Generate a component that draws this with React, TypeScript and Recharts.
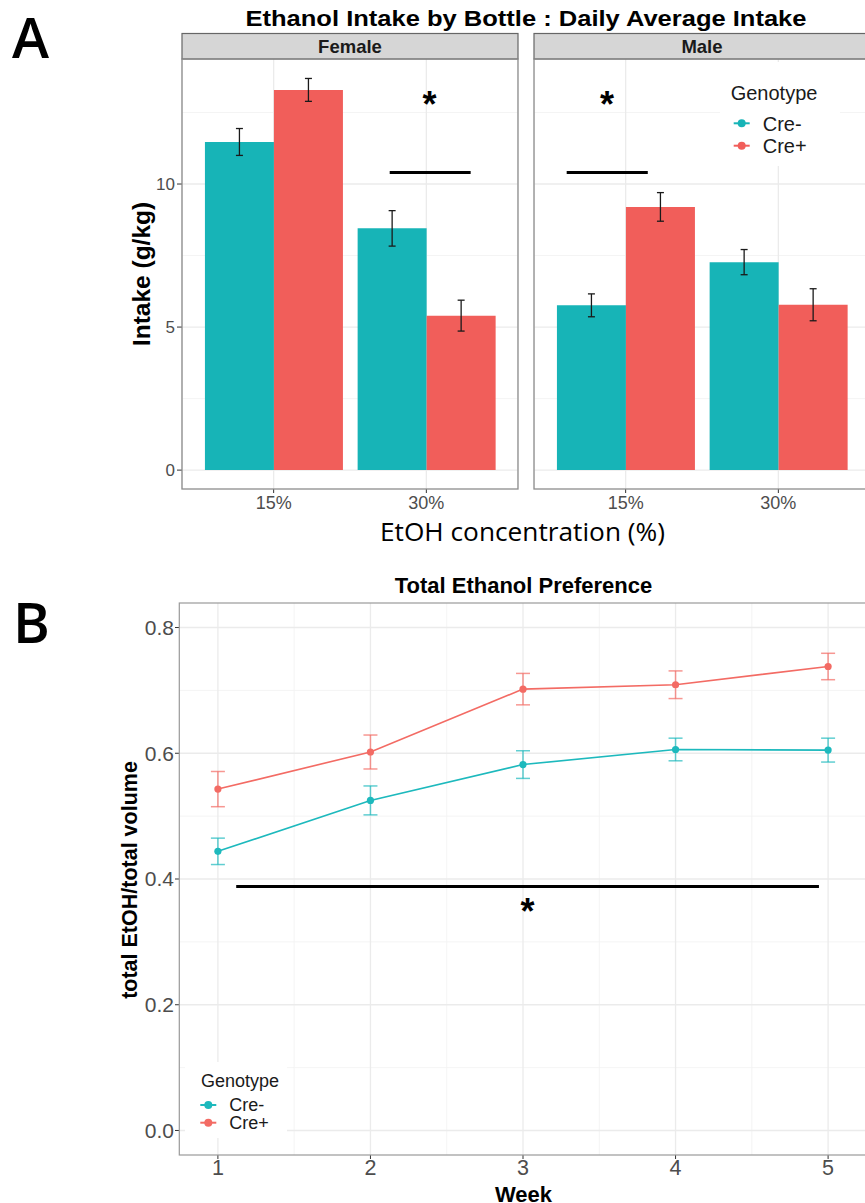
import React from 'react';
import {
  BarChart, Bar, LineChart, Line, XAxis, YAxis, CartesianGrid,
  ErrorBar, ReferenceLine, ReferenceDot,
} from 'recharts';

// panel A: daily average intake (g/kg)
const concentrations = ['15%', '30%'];
const femaleCreMinus = [11.47, 8.45];
const femaleCreMinusSE = [0.47, 0.62];
const femaleCrePlus = [13.29, 5.4];
const femaleCrePlusSE = [0.4, 0.54];
const maleCreMinus = [5.76, 7.27];
const maleCreMinusSE = [0.4, 0.44];
const maleCrePlus = [9.2, 5.78];
const maleCrePlusSE = [0.5, 0.56];
const intakeTicks = [0, 5, 10];
const intakeMinor = [2.5, 7.5, 12.5];
const intakeDomain = [-0.66, 14.37];

// panel B: total ethanol preference per week
const weeks = [1, 2, 3, 4, 5];
const prefCreMinus = [0.444, 0.525, 0.582, 0.606, 0.605];
const prefCreMinusSE = [0.021, 0.023, 0.022, 0.018, 0.019];
const prefCrePlus = [0.543, 0.602, 0.702, 0.709, 0.738];
const prefCrePlusSE = [0.028, 0.027, 0.025, 0.022, 0.021];
const prefTicks = [0, 0.2, 0.4, 0.6, 0.8];
const prefMinor = [0.1, 0.3, 0.5, 0.7];
const weekMinor = [1.5, 2.5, 3.5, 4.5];

const teal = '#17B4B7';
const red = '#F15E5A';
const tealLine = '#1DB9BD';
const redLine = '#F36B64';
const gridMajor = '#EBEBEB';
const gridMinor = '#F3F3F3';
const FONT = '"Liberation Sans", Arial, sans-serif';

const femaleData = concentrations.map((c, i) => ({
  conc: c, pos: i + 1, creMinus: femaleCreMinus[i], seMinus: femaleCreMinusSE[i],
  crePlus: femaleCrePlus[i], sePlus: femaleCrePlusSE[i],
}));
const maleData = concentrations.map((c, i) => ({
  conc: c, pos: i + 1, creMinus: maleCreMinus[i], seMinus: maleCreMinusSE[i],
  crePlus: maleCrePlus[i], sePlus: maleCrePlusSE[i],
}));
const prefData = weeks.map((w, i) => ({
  week: w, creMinus: prefCreMinus[i], seMinus: prefCreMinusSE[i],
  crePlus: prefCrePlus[i], sePlus: prefCrePlusSE[i],
}));

const Star = (p: any) => (
  <text x={p.cx} y={p.cy} dy="0.52em" textAnchor="middle" fontSize={36}
    fontWeight={700} fill="#000" fontFamily={FONT}>*</text>
);

function Facet({ data, left, showY, sig, star }: any) {
  const yw = showY ? 40 : 0;
  return (
    <>
      <div style={{ position: 'absolute', left: left - yw, top: 59 }}>
        <BarChart width={336 + yw} height={470} data={data}
          margin={{ top: 0, right: 0, bottom: 0, left: 0 }}
          barCategoryGap="5%" barGap={0}>
          <CartesianGrid horizontalValues={intakeMinor} vertical={false}
            stroke={gridMinor} strokeWidth={0.9} />
          <CartesianGrid horizontalValues={intakeTicks} stroke={gridMajor} strokeWidth={1.3} />
          <XAxis dataKey="conc" height={40} padding={{ left: 15.3, right: 15.3 }}
            axisLine={false} tickSize={4} tickMargin={3}
            tickLine={{ stroke: '#333' }}
            tick={{ fontSize: 18, fill: '#4D4D4D', fontFamily: FONT }} />
          <YAxis type="number" domain={intakeDomain} ticks={intakeTicks} allowDataOverflow
            hide={!showY} width={yw} axisLine={false} tickSize={5} tickMargin={2}
            tickLine={{ stroke: '#333' }}
            tick={{ fontSize: 17, fill: '#4D4D4D', fontFamily: FONT }} />
          <Bar dataKey="creMinus" fill={teal} isAnimationActive={false}>
            <ErrorBar dataKey="seMinus" width={3.5} stroke="#1a1a1a" strokeWidth={1.3} />
          </Bar>
          <Bar dataKey="crePlus" fill={red} isAnimationActive={false}>
            <ErrorBar dataKey="sePlus" width={3.5} stroke="#1a1a1a" strokeWidth={1.3} />
          </Bar>
        </BarChart>
      </div>
      {/* significance annotation on the continuous position scale of the facet */}
      <div style={{ position: 'absolute', left, top: 59, pointerEvents: 'none' }}>
        <LineChart width={336} height={430} data={data}
          margin={{ top: 0, right: 0, bottom: 0, left: 0 }}>
          <XAxis dataKey="pos" type="number" domain={[0.4, 2.6]} hide allowDataOverflow />
          <YAxis type="number" domain={intakeDomain} hide allowDataOverflow />
          <Line dataKey="creMinus" stroke="none" dot={false} activeDot={false}
            isAnimationActive={false} />
          <ReferenceLine segment={[{ x: sig[0], y: 10.4 }, { x: sig[1], y: 10.4 }]}
            stroke="#000" strokeWidth={3} ifOverflow="visible" />
          <ReferenceDot x={star} y={13} shape={Star} ifOverflow="visible" />
        </LineChart>
      </div>
    </>
  );
}

function LegendKey({ x, y, color, label, size }: any) {
  return (
    <g>
      <line x1={x - 8} x2={x + 8} y1={y} y2={y} stroke={color} strokeWidth={2} />
      <circle cx={x} cy={y} r={4} fill={color} />
      <text x={x + 21} y={y} dy="0.36em" fontSize={size} fill="#1a1a1a">{label}</text>
    </g>
  );
}

export default function App() {
  return (
    <div style={{
      position: 'absolute', left: 0, top: 0, width: 865, height: 1203,
      overflow: 'hidden', background: '#fff', fontFamily: FONT,
    }}>
      <Facet data={femaleData} left={182} showY sig={[1.76, 2.29]} star={2.02} />
      <Facet data={maleData} left={534} showY={false} sig={[0.614, 1.145]} star={0.878} />

      <div style={{ position: 'absolute', left: 119, top: 603 }}>
        <LineChart width={748} height={597} data={prefData}
          margin={{ top: 0, right: 0, bottom: 0, left: 0 }}>
          <CartesianGrid horizontalValues={prefMinor} verticalValues={weekMinor}
            stroke={gridMinor} strokeWidth={0.9} />
          <CartesianGrid horizontalValues={prefTicks} verticalValues={weeks}
            stroke={gridMajor} strokeWidth={1.3} />
          <XAxis dataKey="week" type="number" domain={[0.745, 5.255]} ticks={weeks}
            allowDataOverflow height={45} axisLine={false} tickSize={4} tickMargin={1}
            tickLine={{ stroke: '#333' }}
            tick={{ fontSize: 21.5, fill: '#4D4D4D', fontFamily: FONT }} />
          <YAxis type="number" domain={[-0.039, 0.839]} ticks={prefTicks} allowDataOverflow
            width={60} axisLine={false} tickSize={4} tickMargin={1}
            tickFormatter={(v: number) => v.toFixed(1)}
            tickLine={{ stroke: '#333' }}
            tick={{ fontSize: 21, fill: '#4D4D4D', fontFamily: FONT }} />
          <Line dataKey="creMinus" stroke={tealLine} strokeWidth={1.6} isAnimationActive={false}
            dot={{ r: 3.6, fill: tealLine, stroke: tealLine, strokeWidth: 0 }} activeDot={false}>
            <ErrorBar dataKey="seMinus" width={7} stroke={tealLine} strokeOpacity={0.7} strokeWidth={1.5} />
          </Line>
          <Line dataKey="crePlus" stroke={redLine} strokeWidth={1.6} isAnimationActive={false}
            dot={{ r: 3.6, fill: redLine, stroke: redLine, strokeWidth: 0 }} activeDot={false}>
            <ErrorBar dataKey="sePlus" width={7} stroke={redLine} strokeOpacity={0.7} strokeWidth={1.5} />
          </Line>
          <ReferenceLine segment={[{ x: 1.12, y: 0.388 }, { x: 4.94, y: 0.388 }]}
            stroke="#000" strokeWidth={3} />
          <ReferenceDot x={3.03} y={0.358} shape={Star} />
        </LineChart>
      </div>

      <svg width={865} height={1203} style={{ position: 'absolute', left: 0, top: 0, pointerEvents: 'none' }}
        fontFamily={FONT}>
        {/* panel letters */}
        <text x={12} y={58} fontSize={56} fontWeight={600} fontFamily='"Open Sans", sans-serif'>A</text>
        <text x={13} y={643} fontSize={56} fontWeight={600} fontFamily='"Open Sans", sans-serif'>B</text>

        {/* panel A frame */}
        <text x={526} y={25.5} textAnchor="middle" fontSize={22} fontWeight={700} fill="#000"
          textLength={561} lengthAdjust="spacingAndGlyphs">
          Ethanol Intake by Bottle : Daily Average Intake
        </text>
        <rect x={182} y={33.5} width={336} height={25.5} fill="#D6D6D6" stroke="#666" strokeWidth={1.2} />
        <rect x={534} y={33.5} width={340} height={25.5} fill="#D6D6D6" stroke="#666" strokeWidth={1.2} />
        <text x={350} y={53.3} textAnchor="middle" fontSize={18.5} fontWeight={700} fill="#1a1a1a">Female</text>
        <text x={702} y={53.3} textAnchor="middle" fontSize={18.5} fontWeight={700} fill="#1a1a1a">Male</text>
        <rect x={182} y={59} width={336} height={430} fill="none" stroke="#8c8c8c" strokeWidth={1.3} />
        <rect x={534} y={59} width={340} height={430} fill="none" stroke="#8c8c8c" strokeWidth={1.3} />
        <text transform="translate(149.5,274) rotate(-90)" textAnchor="middle" fontSize={24.5}
          fontWeight={700} fill="#000">Intake (g/kg)</text>
        <text x={522.5} y={541} textAnchor="middle" fontSize={25.5} fill="#000"
          textLength={285} lengthAdjust="spacingAndGlyphs"
          fontFamily='"Open Sans", sans-serif'>EtOH concentration (%)</text>

        {/* legend A */}
        <rect x={720} y={62} width={120} height={104} fill="#fff" />
        <text x={730.7} y={100.3} fontSize={20} fill="#1a1a1a">Genotype</text>
        <LegendKey x={741.7} y={123.3} color={teal} label="Cre-" size={20} />
        <LegendKey x={741.7} y={145.7} color={red} label="Cre+" size={20} />

        {/* panel B frame */}
        <text x={523.5} y={593} textAnchor="middle" fontSize={22} fontWeight={700} fill="#000">
          Total Ethanol Preference
        </text>
        <rect x={179.3} y={603} width={700} height={552} fill="none" stroke="#9a9a9a" strokeWidth={1.2} />
        <text transform="translate(137,880) rotate(-90)" textAnchor="middle" fontSize={21.5}
          fontWeight={700} fill="#000">total EtOH/total volume</text>
        <text x={523.5} y={1201.5} textAnchor="middle" fontSize={22} fontWeight={700} fill="#000">Week</text>

        {/* legend B */}
        <rect x={185} y={1062} width={102} height={76} fill="#fff" />
        <text x={201} y={1086.5} fontSize={18} fill="#1a1a1a">Genotype</text>
        <LegendKey x={208.3} y={1105} color={tealLine} label="Cre-" size={18} />
        <LegendKey x={208.3} y={1122.7} color={redLine} label="Cre+" size={18} />
      </svg>
    </div>
  );
}
